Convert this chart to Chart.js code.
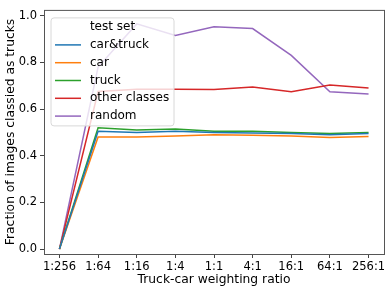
<!DOCTYPE html>
<html>
<head>
<meta charset="utf-8">
<script src="https://cdn.jsdelivr.net/npm/chart.js@4.4.1/dist/chart.umd.min.js"></script>
<style>
  html, body { margin: 0; padding: 0; background: #fff; }
  #wrap { width: 391px; height: 292px; }
</style>
</head>
<body>
<div id="wrap"><canvas id="chart" width="391" height="292"></canvas></div>
<script>
// weighting ratios along the x axis
const ratios = ['1:256', '1:64', '1:16', '1:4', '1:1', '4:1', '16:1', '64:1', '256:1'];

// fraction classified as trucks, one list per test set
const carTruck = [0, 0.505, 0.500, 0.505, 0.500, 0.498, 0.495, 0.490, 0.495];
const car      = [0, 0.480, 0.480, 0.485, 0.490, 0.488, 0.485, 0.478, 0.483];
const truck    = [0, 0.520, 0.510, 0.515, 0.505, 0.505, 0.500, 0.495, 0.500];
const other    = [0, 0.675, 0.685, 0.685, 0.684, 0.695, 0.674, 0.703, 0.690];
const random   = [0, 0.780, 0.965, 0.915, 0.953, 0.945, 0.830, 0.674, 0.665];

const yTicks = [0, 0.2, 0.4, 0.6, 0.8, 1.0];

const tickFont = { family: 'DejaVu Sans', size: 11.5 };
const titleFont = { family: 'DejaVu Sans', size: 12.3 };

function toPoints(arr) {
    return arr.map((v, i) => ({ x: i, y: v }));
}

function line(label, values, color) {
    return {
        label: label,
        data: toPoints(values),
        borderColor: color,
        backgroundColor: color,
        borderWidth: 1.5,
        pointRadius: 0,
        tension: 0
    };
}

// box round the plot, like matplotlib spines
const framePlugin = {
    id: 'frame',
    afterDatasetsDraw(chart) {
        const { ctx, chartArea: a } = chart;
        ctx.save();
        ctx.strokeStyle = '#555';
        ctx.lineWidth = 1;
        ctx.strokeRect(a.left + 0.5, a.top + 0.5, a.right - a.left, a.bottom - a.top);
        ctx.restore();
    }
};

// legend inside the plot, with a title
const legendPlugin = {
    id: 'innerLegend',
    afterDatasetsDraw(chart) {
        const { ctx, chartArea: a } = chart;
        const x = a.left + 7, y = a.top + 8, w = 123, h = 108;
        ctx.save();
        ctx.beginPath();
        ctx.roundRect(x, y, w, h, 3);
        ctx.fillStyle = 'rgba(255,255,255,0.8)';
        ctx.fill();
        ctx.strokeStyle = '#d8d8d8';
        ctx.lineWidth = 1;
        ctx.stroke();

        ctx.font = '12px "DejaVu Sans"';
        ctx.fillStyle = '#000';
        ctx.textBaseline = 'middle';
        ctx.textAlign = 'center';
        ctx.fillText('test set', x + w / 2, y + 9);

        ctx.textAlign = 'left';
        chart.data.datasets.forEach((ds, i) => {
            const ly = y + 27 + i * 17.8;
            ctx.strokeStyle = ds.borderColor;
            ctx.lineWidth = 1.5;
            ctx.beginPath();
            ctx.moveTo(x + 4, ly);
            ctx.lineTo(x + 30, ly);
            ctx.stroke();
            ctx.fillStyle = '#000';
            ctx.fillText(ds.label, x + 39, ly);
        });
        ctx.restore();
    }
};

const ctx = document.getElementById('chart').getContext('2d');
new Chart(ctx, {
    type: 'line',
    data: {
        datasets: [
            line('car&truck', carTruck, '#1f77b4'),
            line('car', car, '#ff7f0e'),
            line('truck', truck, '#2ca02c'),
            line('other classes', other, '#d62728'),
            line('random', random, '#9467bd')
        ]
    },
    options: {
        responsive: false,
        animation: false,
        layout: { padding: { top: 7, right: 7, left: 0, bottom: 0 } },
        plugins: {
            legend: { display: false },
            tooltip: { enabled: false }
        },
        scales: {
            x: {
                type: 'linear',
                min: -0.4,
                max: 8.4,
                afterBuildTicks: s => { s.ticks = ratios.map((r, i) => ({ value: i })); },
                afterFit: s => { s.height = 38; },
                ticks: {
                    font: tickFont,
                    color: '#000',
                    padding: 2,
                    maxRotation: 0,
                    autoSkip: false,
                    callback: v => ratios[v]
                },
                grid: { drawOnChartArea: false, tickLength: 4, tickColor: '#444' },
                border: { display: false },
                title: {
                    display: true,
                    text: 'Truck-car weighting ratio',
                    font: titleFont,
                    color: '#000',
                    padding: { top: 0, bottom: 5 }
                }
            },
            y: {
                min: -0.021,
                max: 1.025,
                afterBuildTicks: s => { s.ticks = yTicks.map(v => ({ value: v })); },
                afterFit: s => { s.width = 44; },
                ticks: {
                    font: tickFont,
                    color: '#000',
                    padding: 3,
                    callback: v => v.toFixed(1)
                },
                grid: { drawOnChartArea: false, tickLength: 4, tickColor: '#444' },
                border: { display: false },
                title: {
                    display: true,
                    text: 'Fraction of images classied as trucks',
                    font: titleFont,
                    color: '#000',
                    padding: { top: 3, bottom: 0 }
                }
            }
        }
    },
    plugins: [framePlugin, legendPlugin]
});
</script>
</body>
</html>
